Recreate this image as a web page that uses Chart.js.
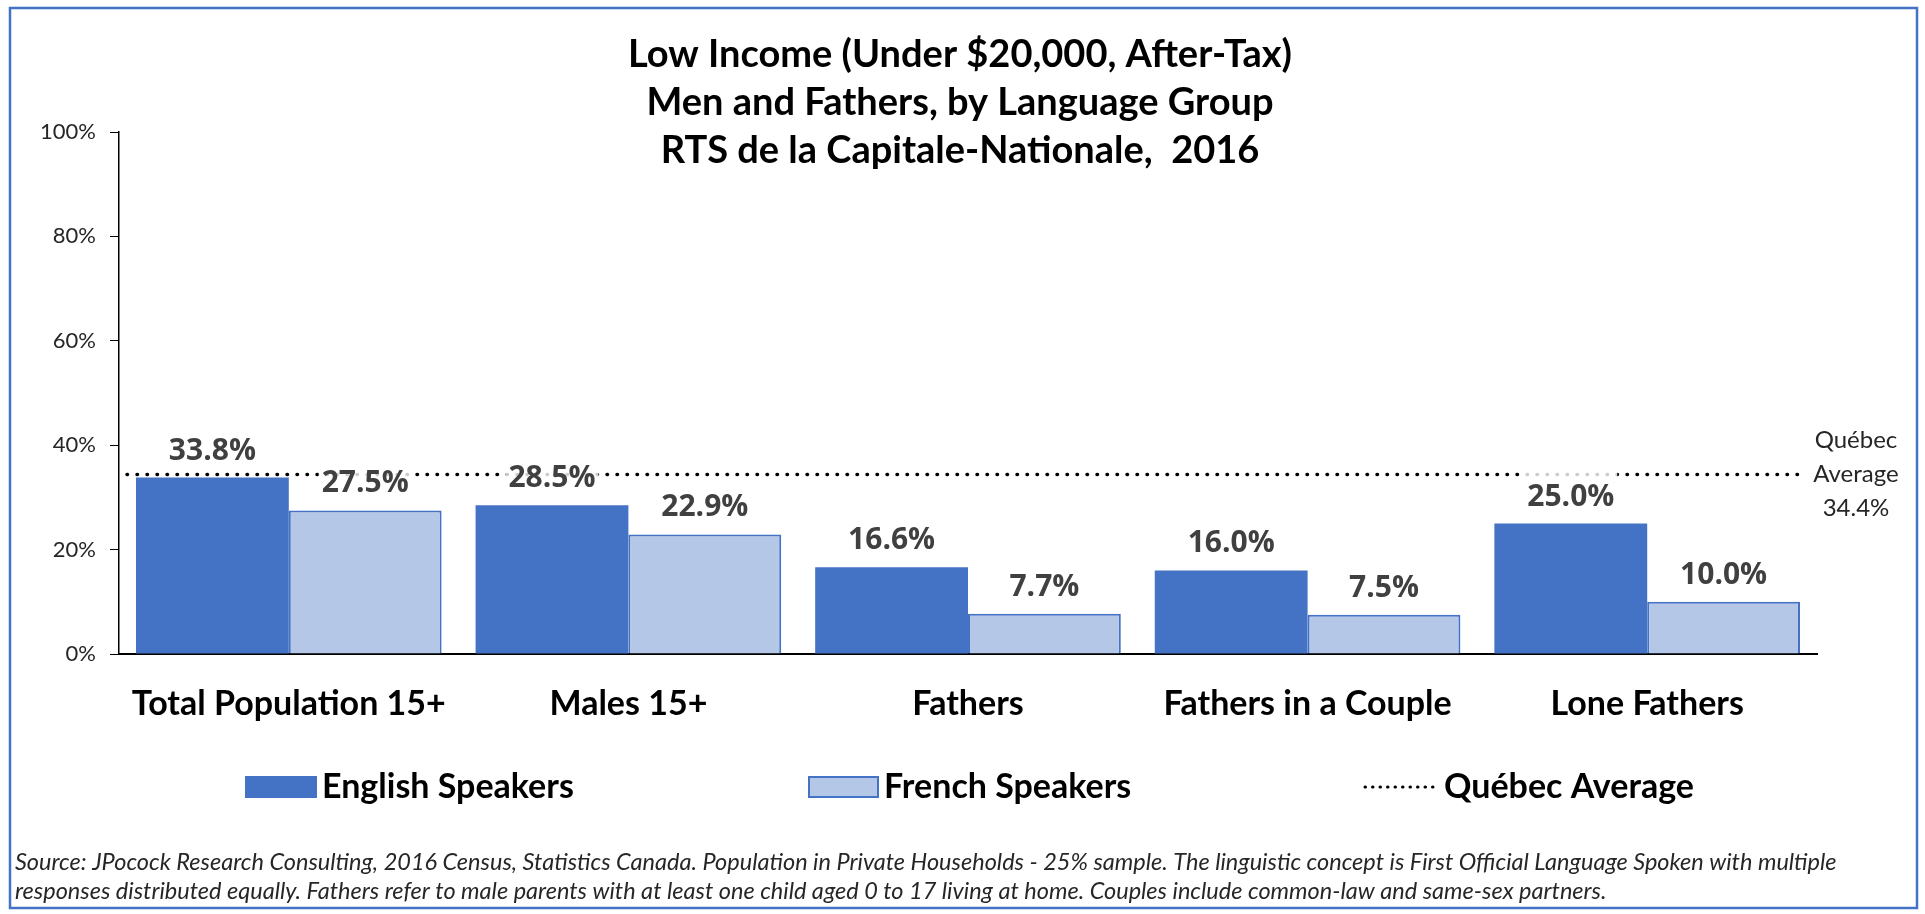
<!DOCTYPE html>
<html>
<head>
<meta charset="utf-8">
<script src="https://cdn.jsdelivr.net/npm/chart.js@4.4.0/dist/chart.umd.min.js"></script>
<style>
  body { margin: 0; background: #fff; overflow: hidden; }
  .chart-wrapper { position: relative; width: 1925px; height: 914px; }
</style>
</head>
<body>
<div class="chart-wrapper">
  <canvas id="lowIncomeChart"></canvas>
</div>
<script>
'use strict'

// データ
const categories = ['Total Population 15+', 'Males 15+', 'Fathers', 'Fathers in a Couple', 'Lone Fathers'];
const englishValues = [33.8, 28.5, 16.6, 16.0, 25.0];
const frenchValues = [27.5, 22.9, 7.7, 7.5, 10.0];
const quebecAverage = 34.4;
const seriesNames = ['English Speakers', 'French Speakers', 'Québec Average'];
const titleLines = [
  'Low Income (Under $20,000, After-Tax)',
  'Men and Fathers, by Language Group',
  'RTS de la Capitale-Nationale,  2016'
];
const footnoteLines = [
  'Source: JPocock Research Consulting, 2016 Census, Statistics Canada. Population in Private Households - 25% sample. The linguistic concept is First Official Language Spoken with multiple',
  'responses distributed equally. Fathers refer to male parents with at least one child aged 0 to 17 living at home. Couples include common-law and same-sex partners.'
];

const darkBlue = '#4472C4';
const lightBlue = '#B4C7E7';

function dottedLine(c, x1, x2, y, width, gap) {
  c.save();
  c.strokeStyle = '#000';
  c.lineWidth = width;
  c.lineCap = 'round';
  c.setLineDash([0.5, gap]);
  c.beginPath();
  c.moveTo(x1, y);
  c.lineTo(x2, y);
  c.stroke();
  c.restore();
}

// 平均線・値ラベル・凡例・枠など
const decorPlugin = {
  id: 'decor',
  afterDatasetsDraw(chart) {
    const c = chart.ctx;
    const area = chart.chartArea;
    const yAvg = chart.scales.y.getPixelForValue(quebecAverage);
    dottedLine(c, area.left + 8, area.right - 16, yAvg, 3.5, 9.5);

    c.save();
    c.font = 'bold 30px "Open Sans"';
    c.textAlign = 'center';
    c.textBaseline = 'alphabetic';
    chart.data.datasets.forEach((ds, di) => {
      const meta = chart.getDatasetMeta(di);
      meta.data.forEach((bar, i) => {
        const text = ds.data[i].toFixed(1) + '%';
        const w = c.measureText(text).width;
        const base = bar.y - 18;
        c.fillStyle = 'rgba(255,255,255,0.8)';
        c.fillRect(bar.x - w / 2 - 3, base - 36, w + 6, 42);
        c.fillStyle = '#404040';
        c.fillText(text, bar.x, base);
      });
    });
    c.restore();
  },
  afterDraw(chart) {
    const c = chart.ctx;
    c.save();

    // 枠
    c.strokeStyle = darkBlue;
    c.lineWidth = 2.5;
    c.strokeRect(10, 8, 1907, 900);

    // タイトル
    c.fillStyle = '#000';
    c.textAlign = 'center';
    c.textBaseline = 'middle';
    c.font = 'bold 38px Lato';
    titleLines.forEach((line, i) => {
      c.fillText(line, 960, 55 + i * 48);
    });

    // ケベック平均ラベル
    const yAvg = chart.scales.y.getPixelForValue(quebecAverage);
    c.font = '24px Lato';
    c.fillStyle = '#262626';
    ['Québec', 'Average', quebecAverage.toFixed(1) + '%'].forEach((line, i) => {
      c.fillText(line, 1856, yAvg + (i - 1) * 34);
    });

    // 凡例
    const legendY = 787;
    c.textAlign = 'left';
    c.font = 'bold 34px Lato';
    c.fillStyle = darkBlue;
    c.fillRect(245, legendY - 11, 72, 22);
    c.fillStyle = '#000';
    c.fillText(seriesNames[0], 322, legendY);

    c.fillStyle = lightBlue;
    c.fillRect(809, legendY - 10, 69, 20);
    c.strokeStyle = darkBlue;
    c.lineWidth = 2;
    c.strokeRect(809, legendY - 10, 69, 20);
    c.fillStyle = '#000';
    c.fillText(seriesNames[1], 884, legendY);

    dottedLine(c, 1365, 1436, legendY, 3, 7);
    c.fillText(seriesNames[2], 1444, legendY);

    // 注記
    c.font = 'italic 23.5px Lato';
    c.fillStyle = '#262626';
    footnoteLines.forEach((line, i) => {
      c.fillText(line, 15, 862 + i * 29);
    });
    c.restore();
  }
};

const ctx = document.getElementById('lowIncomeChart');
const myChart = new Chart(ctx, {
  type: 'bar',
  data: {
    labels: categories,
    datasets: [{
      label: seriesNames[0],
      data: englishValues,
      backgroundColor: darkBlue,
      borderWidth: 0
    }, {
      label: seriesNames[1],
      data: frenchValues,
      backgroundColor: lightBlue,
      borderColor: darkBlue,
      borderWidth: 2
    }]
  },
  options: {
    responsive: true,
    maintainAspectRatio: false,
    animation: false,
    categoryPercentage: 0.9,
    barPercentage: 1.0,
    layout: {
      padding: { top: 132, left: 14, right: 108, bottom: 180 }
    },
    scales: {
      x: {
        grid: { display: false },
        border: { display: true, color: '#000', width: 2 },
        ticks: {
          color: '#000',
          padding: 22,
          maxRotation: 0,
          font: { family: 'Lato', size: 34, weight: 'bold' }
        },
        afterFit: (scale) => { scale.height = 80; }
      },
      y: {
        min: 0,
        max: 100,
        grid: { drawOnChartArea: false, drawTicks: true, tickLength: 9, color: '#000' },
        border: { display: true, color: '#000', width: 1.5 },
        ticks: {
          stepSize: 20,
          padding: 14,
          color: '#262626',
          font: { family: 'Lato', size: 22 },
          callback: function(value) {
            return value + '%';
          }
        },
        afterFit: (scale) => { scale.width = 105; }
      }
    },
    plugins: {
      legend: { display: false },
      tooltip: { enabled: false }
    }
  },
  plugins: [decorPlugin]
});
</script>
</body>
</html>
